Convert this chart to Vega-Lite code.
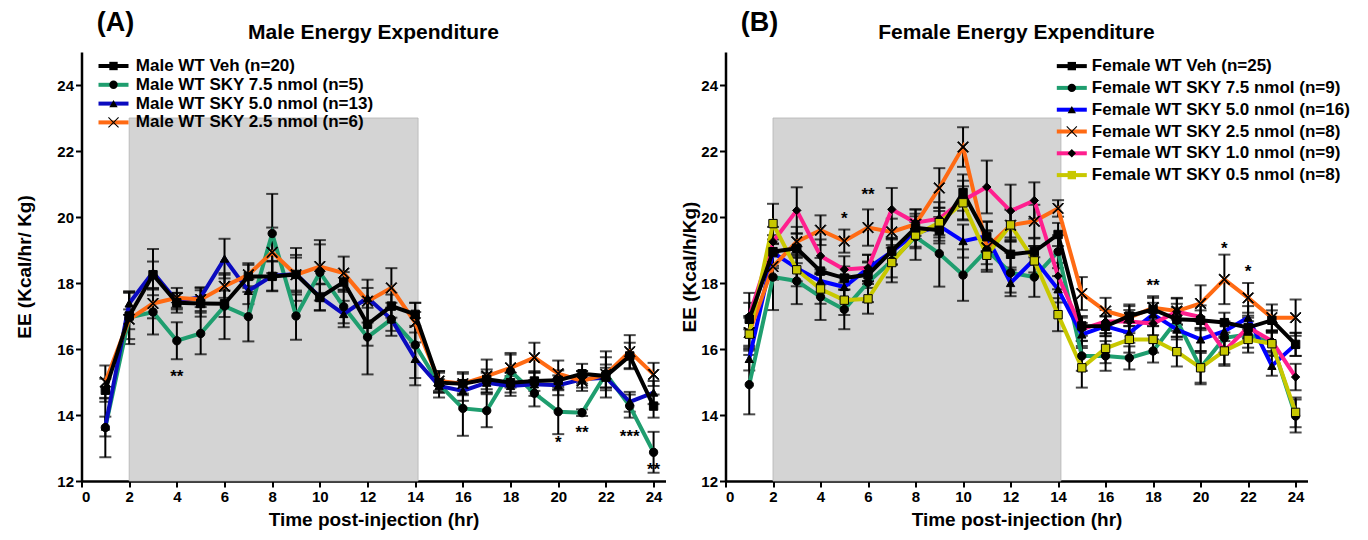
{
"$schema": "https://vega.github.io/schema/vega-lite/v6.json",
"background": "white",
"padding": {"left": 15.5, "top": 9, "right": 4, "bottom": 2},
"config": {
 "font": "Liberation Sans",
 "view": {"stroke": null},
 "axis": {"grid": false, "domainColor": "black", "domainWidth": 2.5, "tickColor": "black", "tickWidth": 2, "tickSize": 6, "labelFont": "Liberation Sans", "labelFontWeight": "bold", "labelFontSize": 15, "labelColor": "black", "labelPadding": 2, "titleFont": "Liberation Sans", "titleFontWeight": "bold", "titleFontSize": 19, "titleColor": "black"},
 "axisX": {"titlePadding": 6},
 "axisY": {"titlePadding": 22},
 "legend": {"labelFont": "Liberation Sans", "labelFontSize": 17, "labelFontWeight": "bold", "labelColor": "black", "padding": 0, "labelLimit": 500},
 "title": {"font": "Liberation Sans", "fontSize": 21, "fontWeight": "bold", "color": "black"}
},
"resolve": {"scale": {"color": "independent", "shape": "independent", "fill": "independent"}, "legend": {"color": "independent", "shape": "independent", "fill": "independent"}},
"datasets": {
 "shade": [{"x1": 2, "x2": 14.12, "y1": 12, "y2": 23}],
 "starsM": [{"h": 4, "y": 15.16, "t": "**"}, {"h": 20, "y": 13.15, "t": "*"}, {"h": 21, "y": 13.44, "t": "**"}, {"h": 23, "y": 13.34, "t": "***"}, {"h": 24, "y": 12.32, "t": "**"}],
 "starsF": [{"h": 5, "y": 19.94, "t": "*"}, {"h": 6, "y": 20.68, "t": "**"}, {"h": 18, "y": 17.92, "t": "**"}, {"h": 21, "y": 19.03, "t": "*"}, {"h": 22, "y": 18.34, "t": "*"}],
 "male": [
  {"s":"Male WT SKY 7.5 nmol (n=5)","h":1,"ee":13.62,"se":0.9},{"s":"Male WT SKY 7.5 nmol (n=5)","h":2,"ee":16.95,"se":0.8},{"s":"Male WT SKY 7.5 nmol (n=5)","h":3,"ee":17.12,"se":0.68},{"s":"Male WT SKY 7.5 nmol (n=5)","h":4,"ee":16.25,"se":0.56},{"s":"Male WT SKY 7.5 nmol (n=5)","h":5,"ee":16.47,"se":0.63},{"s":"Male WT SKY 7.5 nmol (n=5)","h":6,"ee":17.3,"se":1.0},{"s":"Male WT SKY 7.5 nmol (n=5)","h":7,"ee":16.98,"se":0.75},{"s":"Male WT SKY 7.5 nmol (n=5)","h":8,"ee":19.5,"se":1.2},{"s":"Male WT SKY 7.5 nmol (n=5)","h":9,"ee":17.0,"se":0.72},{"s":"Male WT SKY 7.5 nmol (n=5)","h":10,"ee":18.32,"se":0.85},{"s":"Male WT SKY 7.5 nmol (n=5)","h":11,"ee":17.28,"se":0.5},{"s":"Male WT SKY 7.5 nmol (n=5)","h":12,"ee":16.36,"se":1.13},{"s":"Male WT SKY 7.5 nmol (n=5)","h":13,"ee":16.9,"se":0.5},{"s":"Male WT SKY 7.5 nmol (n=5)","h":14,"ee":16.12,"se":1.0},{"s":"Male WT SKY 7.5 nmol (n=5)","h":15,"ee":14.93,"se":0.4},{"s":"Male WT SKY 7.5 nmol (n=5)","h":16,"ee":14.2,"se":0.83},{"s":"Male WT SKY 7.5 nmol (n=5)","h":17,"ee":14.13,"se":0.5},{"s":"Male WT SKY 7.5 nmol (n=5)","h":18,"ee":15.33,"se":0.5},{"s":"Male WT SKY 7.5 nmol (n=5)","h":19,"ee":14.66,"se":0.4},{"s":"Male WT SKY 7.5 nmol (n=5)","h":20,"ee":14.1,"se":0.68},{"s":"Male WT SKY 7.5 nmol (n=5)","h":21,"ee":14.07,"se":0.1},{"s":"Male WT SKY 7.5 nmol (n=5)","h":22,"ee":15.25,"se":0.5},{"s":"Male WT SKY 7.5 nmol (n=5)","h":23,"ee":14.27,"se":0.35},{"s":"Male WT SKY 7.5 nmol (n=5)","h":24,"ee":12.87,"se":0.62},
  {"s":"Male WT SKY 5.0 nmol (n=13)","h":1,"ee":13.65,"se":0.3},{"s":"Male WT SKY 5.0 nmol (n=13)","h":2,"ee":17.38,"se":0.35},{"s":"Male WT SKY 5.0 nmol (n=13)","h":3,"ee":18.33,"se":0.7},{"s":"Male WT SKY 5.0 nmol (n=13)","h":4,"ee":17.45,"se":0.25},{"s":"Male WT SKY 5.0 nmol (n=13)","h":5,"ee":17.57,"se":0.3},{"s":"Male WT SKY 5.0 nmol (n=13)","h":6,"ee":18.74,"se":0.6},{"s":"Male WT SKY 5.0 nmol (n=13)","h":7,"ee":17.76,"se":0.4},{"s":"Male WT SKY 5.0 nmol (n=13)","h":8,"ee":18.22,"se":0.45},{"s":"Male WT SKY 5.0 nmol (n=13)","h":9,"ee":18.27,"se":0.5},{"s":"Male WT SKY 5.0 nmol (n=13)","h":10,"ee":17.58,"se":0.4},{"s":"Male WT SKY 5.0 nmol (n=13)","h":11,"ee":17.06,"se":0.4},{"s":"Male WT SKY 5.0 nmol (n=13)","h":12,"ee":17.55,"se":0.3},{"s":"Male WT SKY 5.0 nmol (n=13)","h":13,"ee":16.9,"se":0.35},{"s":"Male WT SKY 5.0 nmol (n=13)","h":14,"ee":15.7,"se":0.8},{"s":"Male WT SKY 5.0 nmol (n=13)","h":15,"ee":14.88,"se":0.2},{"s":"Male WT SKY 5.0 nmol (n=13)","h":16,"ee":14.73,"se":0.3},{"s":"Male WT SKY 5.0 nmol (n=13)","h":17,"ee":14.98,"se":0.3},{"s":"Male WT SKY 5.0 nmol (n=13)","h":18,"ee":14.88,"se":0.3},{"s":"Male WT SKY 5.0 nmol (n=13)","h":19,"ee":14.93,"se":0.35},{"s":"Male WT SKY 5.0 nmol (n=13)","h":20,"ee":14.9,"se":0.3},{"s":"Male WT SKY 5.0 nmol (n=13)","h":21,"ee":15.08,"se":0.25},{"s":"Male WT SKY 5.0 nmol (n=13)","h":22,"ee":15.13,"se":0.3},{"s":"Male WT SKY 5.0 nmol (n=13)","h":23,"ee":14.4,"se":0.3},{"s":"Male WT SKY 5.0 nmol (n=13)","h":24,"ee":14.68,"se":0.35},
  {"s":"Male WT SKY 2.5 nmol (n=6)","h":1,"ee":15.0,"se":0.5},{"s":"Male WT SKY 2.5 nmol (n=6)","h":2,"ee":16.9,"se":0.3},{"s":"Male WT SKY 2.5 nmol (n=6)","h":3,"ee":17.38,"se":0.45},{"s":"Male WT SKY 2.5 nmol (n=6)","h":4,"ee":17.55,"se":0.3},{"s":"Male WT SKY 2.5 nmol (n=6)","h":5,"ee":17.5,"se":0.35},{"s":"Male WT SKY 2.5 nmol (n=6)","h":6,"ee":17.9,"se":0.35},{"s":"Male WT SKY 2.5 nmol (n=6)","h":7,"ee":18.25,"se":0.35},{"s":"Male WT SKY 2.5 nmol (n=6)","h":8,"ee":18.93,"se":0.75},{"s":"Male WT SKY 2.5 nmol (n=6)","h":9,"ee":18.25,"se":0.6},{"s":"Male WT SKY 2.5 nmol (n=6)","h":10,"ee":18.5,"se":0.8},{"s":"Male WT SKY 2.5 nmol (n=6)","h":11,"ee":18.3,"se":0.5},{"s":"Male WT SKY 2.5 nmol (n=6)","h":12,"ee":17.45,"se":0.65},{"s":"Male WT SKY 2.5 nmol (n=6)","h":13,"ee":17.85,"se":0.6},{"s":"Male WT SKY 2.5 nmol (n=6)","h":14,"ee":16.8,"se":0.6},{"s":"Male WT SKY 2.5 nmol (n=6)","h":15,"ee":15.03,"se":0.3},{"s":"Male WT SKY 2.5 nmol (n=6)","h":16,"ee":14.95,"se":0.35},{"s":"Male WT SKY 2.5 nmol (n=6)","h":17,"ee":15.18,"se":0.5},{"s":"Male WT SKY 2.5 nmol (n=6)","h":18,"ee":15.43,"se":0.45},{"s":"Male WT SKY 2.5 nmol (n=6)","h":19,"ee":15.74,"se":0.45},{"s":"Male WT SKY 2.5 nmol (n=6)","h":20,"ee":15.25,"se":0.4},{"s":"Male WT SKY 2.5 nmol (n=6)","h":21,"ee":15.03,"se":0.3},{"s":"Male WT SKY 2.5 nmol (n=6)","h":22,"ee":15.23,"se":0.7},{"s":"Male WT SKY 2.5 nmol (n=6)","h":23,"ee":15.92,"se":0.5},{"s":"Male WT SKY 2.5 nmol (n=6)","h":24,"ee":15.23,"se":0.35},
  {"s":"Male WT Veh (n=20)","h":1,"ee":14.75,"se":0.35},{"s":"Male WT Veh (n=20)","h":2,"ee":17.0,"se":0.7},{"s":"Male WT Veh (n=20)","h":3,"ee":18.25,"se":0.4},{"s":"Male WT Veh (n=20)","h":4,"ee":17.4,"se":0.3},{"s":"Male WT Veh (n=20)","h":5,"ee":17.38,"se":0.4},{"s":"Male WT Veh (n=20)","h":6,"ee":17.37,"se":0.4},{"s":"Male WT Veh (n=20)","h":7,"ee":18.2,"se":0.35},{"s":"Male WT Veh (n=20)","h":8,"ee":18.2,"se":0.45},{"s":"Male WT Veh (n=20)","h":9,"ee":18.26,"se":0.8},{"s":"Male WT Veh (n=20)","h":10,"ee":17.56,"se":0.4},{"s":"Male WT Veh (n=20)","h":11,"ee":18.03,"se":0.3},{"s":"Male WT Veh (n=20)","h":12,"ee":16.75,"se":0.65},{"s":"Male WT Veh (n=20)","h":13,"ee":17.3,"se":0.35},{"s":"Male WT Veh (n=20)","h":14,"ee":17.05,"se":0.35},{"s":"Male WT Veh (n=20)","h":15,"ee":14.98,"se":0.3},{"s":"Male WT Veh (n=20)","h":16,"ee":14.95,"se":0.3},{"s":"Male WT Veh (n=20)","h":17,"ee":15.08,"se":0.3},{"s":"Male WT Veh (n=20)","h":18,"ee":14.98,"se":0.3},{"s":"Male WT Veh (n=20)","h":19,"ee":15.03,"se":0.3},{"s":"Male WT Veh (n=20)","h":20,"ee":15.05,"se":0.3},{"s":"Male WT Veh (n=20)","h":21,"ee":15.25,"se":0.3},{"s":"Male WT Veh (n=20)","h":22,"ee":15.18,"se":0.35},{"s":"Male WT Veh (n=20)","h":23,"ee":15.79,"se":0.4},{"s":"Male WT Veh (n=20)","h":24,"ee":14.27,"se":0.35}
 ],
 "female": [
  {"s":"Female WT SKY 7.5 nmol (n=9)","h":1,"ee":14.92,"se":0.9},{"s":"Female WT SKY 7.5 nmol (n=9)","h":2,"ee":18.18,"se":1.0},{"s":"Female WT SKY 7.5 nmol (n=9)","h":3,"ee":18.06,"se":0.7},{"s":"Female WT SKY 7.5 nmol (n=9)","h":4,"ee":17.58,"se":0.7},{"s":"Female WT SKY 7.5 nmol (n=9)","h":5,"ee":17.2,"se":0.6},{"s":"Female WT SKY 7.5 nmol (n=9)","h":6,"ee":18.02,"se":0.6},{"s":"Female WT SKY 7.5 nmol (n=9)","h":7,"ee":18.67,"se":0.65},{"s":"Female WT SKY 7.5 nmol (n=9)","h":8,"ee":19.4,"se":0.7},{"s":"Female WT SKY 7.5 nmol (n=9)","h":9,"ee":18.89,"se":1.0},{"s":"Female WT SKY 7.5 nmol (n=9)","h":10,"ee":18.24,"se":0.78},{"s":"Female WT SKY 7.5 nmol (n=9)","h":11,"ee":19.0,"se":0.6},{"s":"Female WT SKY 7.5 nmol (n=9)","h":12,"ee":18.31,"se":0.6},{"s":"Female WT SKY 7.5 nmol (n=9)","h":13,"ee":18.18,"se":0.6},{"s":"Female WT SKY 7.5 nmol (n=9)","h":14,"ee":18.95,"se":0.5},{"s":"Female WT SKY 7.5 nmol (n=9)","h":15,"ee":15.79,"se":0.45},{"s":"Female WT SKY 7.5 nmol (n=9)","h":16,"ee":15.79,"se":0.45},{"s":"Female WT SKY 7.5 nmol (n=9)","h":17,"ee":15.73,"se":0.35},{"s":"Female WT SKY 7.5 nmol (n=9)","h":18,"ee":15.94,"se":0.35},{"s":"Female WT SKY 7.5 nmol (n=9)","h":19,"ee":16.87,"se":0.5},{"s":"Female WT SKY 7.5 nmol (n=9)","h":20,"ee":15.43,"se":0.5},{"s":"Female WT SKY 7.5 nmol (n=9)","h":21,"ee":16.34,"se":0.45},{"s":"Female WT SKY 7.5 nmol (n=9)","h":22,"ee":16.44,"se":0.4},{"s":"Female WT SKY 7.5 nmol (n=9)","h":23,"ee":16.19,"se":0.3},{"s":"Female WT SKY 7.5 nmol (n=9)","h":24,"ee":13.97,"se":0.5},
  {"s":"Female WT SKY 5.0 nmol (n=16)","h":1,"ee":15.7,"se":0.35},{"s":"Female WT SKY 5.0 nmol (n=16)","h":2,"ee":18.92,"se":0.4},{"s":"Female WT SKY 5.0 nmol (n=16)","h":3,"ee":18.45,"se":0.4},{"s":"Female WT SKY 5.0 nmol (n=16)","h":4,"ee":18.06,"se":0.35},{"s":"Female WT SKY 5.0 nmol (n=16)","h":5,"ee":17.88,"se":0.35},{"s":"Female WT SKY 5.0 nmol (n=16)","h":6,"ee":18.45,"se":0.4},{"s":"Female WT SKY 5.0 nmol (n=16)","h":7,"ee":18.95,"se":0.4},{"s":"Female WT SKY 5.0 nmol (n=16)","h":8,"ee":19.5,"se":0.4},{"s":"Female WT SKY 5.0 nmol (n=16)","h":9,"ee":19.73,"se":0.45},{"s":"Female WT SKY 5.0 nmol (n=16)","h":10,"ee":19.27,"se":0.5},{"s":"Female WT SKY 5.0 nmol (n=16)","h":11,"ee":19.42,"se":0.45},{"s":"Female WT SKY 5.0 nmol (n=16)","h":12,"ee":18.0,"se":0.4},{"s":"Female WT SKY 5.0 nmol (n=16)","h":13,"ee":18.72,"se":0.4},{"s":"Female WT SKY 5.0 nmol (n=16)","h":14,"ee":17.81,"se":0.4},{"s":"Female WT SKY 5.0 nmol (n=16)","h":15,"ee":16.44,"se":0.35},{"s":"Female WT SKY 5.0 nmol (n=16)","h":16,"ee":16.69,"se":0.3},{"s":"Female WT SKY 5.0 nmol (n=16)","h":17,"ee":16.49,"se":0.3},{"s":"Female WT SKY 5.0 nmol (n=16)","h":18,"ee":17.05,"se":0.35},{"s":"Female WT SKY 5.0 nmol (n=16)","h":19,"ee":16.59,"se":0.3},{"s":"Female WT SKY 5.0 nmol (n=16)","h":20,"ee":16.29,"se":0.35},{"s":"Female WT SKY 5.0 nmol (n=16)","h":21,"ee":16.54,"se":0.3},{"s":"Female WT SKY 5.0 nmol (n=16)","h":22,"ee":16.95,"se":0.35},{"s":"Female WT SKY 5.0 nmol (n=16)","h":23,"ee":15.49,"se":0.3},{"s":"Female WT SKY 5.0 nmol (n=16)","h":24,"ee":16.14,"se":0.35},
  {"s":"Female WT SKY 2.5 nmol (n=8)","h":1,"ee":16.5,"se":0.5},{"s":"Female WT SKY 2.5 nmol (n=8)","h":2,"ee":18.5,"se":0.4},{"s":"Female WT SKY 2.5 nmol (n=8)","h":3,"ee":19.25,"se":0.45},{"s":"Female WT SKY 2.5 nmol (n=8)","h":4,"ee":19.6,"se":0.45},{"s":"Female WT SKY 2.5 nmol (n=8)","h":5,"ee":19.27,"se":0.35},{"s":"Female WT SKY 2.5 nmol (n=8)","h":6,"ee":19.68,"se":0.55},{"s":"Female WT SKY 2.5 nmol (n=8)","h":7,"ee":19.55,"se":0.4},{"s":"Female WT SKY 2.5 nmol (n=8)","h":8,"ee":19.78,"se":0.45},{"s":"Female WT SKY 2.5 nmol (n=8)","h":9,"ee":20.88,"se":0.6},{"s":"Female WT SKY 2.5 nmol (n=8)","h":10,"ee":22.12,"se":0.6},{"s":"Female WT SKY 2.5 nmol (n=8)","h":11,"ee":19.07,"se":0.5},{"s":"Female WT SKY 2.5 nmol (n=8)","h":12,"ee":19.75,"se":0.5},{"s":"Female WT SKY 2.5 nmol (n=8)","h":13,"ee":19.87,"se":0.5},{"s":"Female WT SKY 2.5 nmol (n=8)","h":14,"ee":20.26,"se":0.25},{"s":"Female WT SKY 2.5 nmol (n=8)","h":15,"ee":17.68,"se":0.5},{"s":"Female WT SKY 2.5 nmol (n=8)","h":16,"ee":17.15,"se":0.4},{"s":"Female WT SKY 2.5 nmol (n=8)","h":17,"ee":16.95,"se":0.4},{"s":"Female WT SKY 2.5 nmol (n=8)","h":18,"ee":17.25,"se":0.35},{"s":"Female WT SKY 2.5 nmol (n=8)","h":19,"ee":17.15,"se":0.4},{"s":"Female WT SKY 2.5 nmol (n=8)","h":20,"ee":17.38,"se":0.55},{"s":"Female WT SKY 2.5 nmol (n=8)","h":21,"ee":18.11,"se":0.75},{"s":"Female WT SKY 2.5 nmol (n=8)","h":22,"ee":17.55,"se":0.45},{"s":"Female WT SKY 2.5 nmol (n=8)","h":23,"ee":16.95,"se":0.4},{"s":"Female WT SKY 2.5 nmol (n=8)","h":24,"ee":16.95,"se":0.55},
  {"s":"Female WT SKY 1.0 nmol (n=9)","h":1,"ee":17.0,"se":0.4},{"s":"Female WT SKY 1.0 nmol (n=9)","h":2,"ee":19.25,"se":0.45},{"s":"Female WT SKY 1.0 nmol (n=9)","h":3,"ee":20.2,"se":0.7},{"s":"Female WT SKY 1.0 nmol (n=9)","h":4,"ee":18.82,"se":0.5},{"s":"Female WT SKY 1.0 nmol (n=9)","h":5,"ee":18.41,"se":0.4},{"s":"Female WT SKY 1.0 nmol (n=9)","h":6,"ee":18.46,"se":0.4},{"s":"Female WT SKY 1.0 nmol (n=9)","h":7,"ee":20.23,"se":0.65},{"s":"Female WT SKY 1.0 nmol (n=9)","h":8,"ee":19.83,"se":0.4},{"s":"Female WT SKY 1.0 nmol (n=9)","h":9,"ee":19.95,"se":0.5},{"s":"Female WT SKY 1.0 nmol (n=9)","h":10,"ee":20.5,"se":0.6},{"s":"Female WT SKY 1.0 nmol (n=9)","h":11,"ee":20.91,"se":0.8},{"s":"Female WT SKY 1.0 nmol (n=9)","h":12,"ee":20.18,"se":0.8},{"s":"Female WT SKY 1.0 nmol (n=9)","h":13,"ee":20.5,"se":0.55},{"s":"Female WT SKY 1.0 nmol (n=9)","h":14,"ee":18.21,"se":0.4},{"s":"Female WT SKY 1.0 nmol (n=9)","h":15,"ee":16.6,"se":0.35},{"s":"Female WT SKY 1.0 nmol (n=9)","h":16,"ee":16.83,"se":0.35},{"s":"Female WT SKY 1.0 nmol (n=9)","h":17,"ee":16.83,"se":0.35},{"s":"Female WT SKY 1.0 nmol (n=9)","h":18,"ee":16.77,"se":0.35},{"s":"Female WT SKY 1.0 nmol (n=9)","h":19,"ee":17.13,"se":0.4},{"s":"Female WT SKY 1.0 nmol (n=9)","h":20,"ee":16.97,"se":0.35},{"s":"Female WT SKY 1.0 nmol (n=9)","h":21,"ee":15.94,"se":0.4},{"s":"Female WT SKY 1.0 nmol (n=9)","h":22,"ee":16.66,"se":0.35},{"s":"Female WT SKY 1.0 nmol (n=9)","h":23,"ee":16.24,"se":0.3},{"s":"Female WT SKY 1.0 nmol (n=9)","h":24,"ee":15.15,"se":0.4},
  {"s":"Female WT SKY 0.5 nmol (n=8)","h":1,"ee":16.45,"se":0.5},{"s":"Female WT SKY 0.5 nmol (n=8)","h":2,"ee":19.8,"se":0.6},{"s":"Female WT SKY 0.5 nmol (n=8)","h":3,"ee":18.4,"se":0.5},{"s":"Female WT SKY 0.5 nmol (n=8)","h":4,"ee":17.82,"se":0.45},{"s":"Female WT SKY 0.5 nmol (n=8)","h":5,"ee":17.48,"se":0.45},{"s":"Female WT SKY 0.5 nmol (n=8)","h":6,"ee":17.52,"se":0.45},{"s":"Female WT SKY 0.5 nmol (n=8)","h":7,"ee":18.62,"se":0.45},{"s":"Female WT SKY 0.5 nmol (n=8)","h":8,"ee":19.45,"se":0.4},{"s":"Female WT SKY 0.5 nmol (n=8)","h":9,"ee":19.83,"se":0.45},{"s":"Female WT SKY 0.5 nmol (n=8)","h":10,"ee":20.43,"se":0.5},{"s":"Female WT SKY 0.5 nmol (n=8)","h":11,"ee":18.84,"se":0.5},{"s":"Female WT SKY 0.5 nmol (n=8)","h":12,"ee":19.76,"se":0.45},{"s":"Female WT SKY 0.5 nmol (n=8)","h":13,"ee":18.67,"se":0.45},{"s":"Female WT SKY 0.5 nmol (n=8)","h":14,"ee":17.04,"se":0.5},{"s":"Female WT SKY 0.5 nmol (n=8)","h":15,"ee":15.43,"se":0.6},{"s":"Female WT SKY 0.5 nmol (n=8)","h":16,"ee":16.02,"se":0.45},{"s":"Female WT SKY 0.5 nmol (n=8)","h":17,"ee":16.29,"se":0.4},{"s":"Female WT SKY 0.5 nmol (n=8)","h":18,"ee":16.29,"se":0.4},{"s":"Female WT SKY 0.5 nmol (n=8)","h":19,"ee":15.92,"se":0.45},{"s":"Female WT SKY 0.5 nmol (n=8)","h":20,"ee":15.43,"se":0.45},{"s":"Female WT SKY 0.5 nmol (n=8)","h":21,"ee":15.94,"se":0.45},{"s":"Female WT SKY 0.5 nmol (n=8)","h":22,"ee":16.29,"se":0.4},{"s":"Female WT SKY 0.5 nmol (n=8)","h":23,"ee":16.16,"se":0.35},{"s":"Female WT SKY 0.5 nmol (n=8)","h":24,"ee":14.08,"se":0.45},
  {"s":"Female WT Veh (n=25)","h":1,"ee":16.9,"se":0.8},{"s":"Female WT Veh (n=25)","h":2,"ee":18.95,"se":0.5},{"s":"Female WT Veh (n=25)","h":3,"ee":19.05,"se":0.45},{"s":"Female WT Veh (n=25)","h":4,"ee":18.36,"se":0.4},{"s":"Female WT Veh (n=25)","h":5,"ee":18.15,"se":0.35},{"s":"Female WT Veh (n=25)","h":6,"ee":18.25,"se":0.4},{"s":"Female WT Veh (n=25)","h":7,"ee":18.97,"se":0.4},{"s":"Female WT Veh (n=25)","h":8,"ee":19.67,"se":0.35},{"s":"Female WT Veh (n=25)","h":9,"ee":19.6,"se":0.4},{"s":"Female WT Veh (n=25)","h":10,"ee":20.74,"se":0.55},{"s":"Female WT Veh (n=25)","h":11,"ee":19.4,"se":0.45},{"s":"Female WT Veh (n=25)","h":12,"ee":18.87,"se":0.4},{"s":"Female WT Veh (n=25)","h":13,"ee":18.95,"se":0.4},{"s":"Female WT Veh (n=25)","h":14,"ee":19.47,"se":0.35},{"s":"Female WT Veh (n=25)","h":15,"ee":16.7,"se":0.3},{"s":"Female WT Veh (n=25)","h":16,"ee":16.69,"se":0.3},{"s":"Female WT Veh (n=25)","h":17,"ee":17.0,"se":0.3},{"s":"Female WT Veh (n=25)","h":18,"ee":17.2,"se":0.35},{"s":"Female WT Veh (n=25)","h":19,"ee":16.9,"se":0.35},{"s":"Female WT Veh (n=25)","h":20,"ee":16.87,"se":0.3},{"s":"Female WT Veh (n=25)","h":21,"ee":16.8,"se":0.3},{"s":"Female WT Veh (n=25)","h":22,"ee":16.65,"se":0.3},{"s":"Female WT Veh (n=25)","h":23,"ee":16.87,"se":0.3},{"s":"Female WT Veh (n=25)","h":24,"ee":16.14,"se":0.35}
 ]
},
"spacing": 15,
"hconcat": [
 {
  "title": {"text": "(A)", "anchor": "start", "fontSize": 27, "dx": 81, "dy": 15, "offset": 0},
  "hconcat": [
   {
    "width": 584, "height": 429,
    "title": {"text": "Male Energy Expenditure", "frame": "group", "offset": 9},
    "layer": [
     {"data": {"name": "shade"}, "mark": {"type": "rect", "color": "#d4d4d4", "stroke": "#b4b4b4", "strokeWidth": 0.8},
      "encoding": {
       "x": {"field": "x1", "type": "quantitative", "title": "Time post-injection (hr)", "scale": {"domain": [0, 24.5], "nice": false}, "axis": {"values": [0,1,2,3,4,5,6,7,8,9,10,11,12,13,14,15,16,17,18,19,20,21,22,23,24], "labelExpr": "datum.value % 2 === 0 ? datum.label : ''"}},
       "x2": {"field": "x2"},
       "y": {"field": "y1", "type": "quantitative", "title": "EE (Kcal/hr/ Kg)", "scale": {"domain": [12, 25], "nice": false}, "axis": {"values": [12,14,16,18,20,22,24]}},
       "y2": {"field": "y2"}}},
     {"data": {"name": "male"}, "mark": {"type": "errorbar", "ticks": true, "size": 12, "thickness": 2, "color": "black"},
      "encoding": {"x": {"field": "h", "type": "quantitative", "title": "Time post-injection (hr)"}, "y": {"field": "ee", "type": "quantitative", "title": "EE (Kcal/hr/ Kg)"}, "yError": {"field": "se"}}},
     {"data": {"name": "male"}, "mark": {"type": "line", "strokeWidth": 4},
      "encoding": {"x": {"field": "h", "type": "quantitative", "title": "Time post-injection (hr)"}, "y": {"field": "ee", "type": "quantitative", "title": "EE (Kcal/hr/ Kg)"},
       "color": {"field": "s", "type": "nominal", "sort": ["Male WT Veh (n=20)", "Male WT SKY 7.5 nmol (n=5)", "Male WT SKY 5.0 nmol (n=13)", "Male WT SKY 2.5 nmol (n=6)"], "scale": {"range": ["#000000", "#1f9e6f", "#0a0abf", "#ff6a13"]},
        "legend": {"title": null, "orient": "none", "legendX": 23.5, "legendY": 5.5, "symbolType": "M-3,0H3", "symbolSize": 100, "symbolStrokeWidth": 4, "labelOffset": 13.8, "rowPadding": 0.8}}}},
     {"data": {"name": "male"}, "mark": {"type": "point", "filled": true, "size": 70, "opacity": 1, "stroke": "black", "strokeWidth": 1},
      "encoding": {"x": {"field": "h", "type": "quantitative", "title": "Time post-injection (hr)"}, "y": {"field": "ee", "type": "quantitative", "title": "EE (Kcal/hr/ Kg)"},
       "fill": {"field": "s", "type": "nominal", "scale": {"domain": ["Male WT Veh (n=20)", "Male WT SKY 7.5 nmol (n=5)", "Male WT SKY 5.0 nmol (n=13)", "Male WT SKY 2.5 nmol (n=6)"], "range": ["black", "black", "black", "black"]},
        "legend": {"title": null, "orient": "none", "legendX": 23.5, "legendY": 5.5, "symbolSize": 70, "symbolStrokeColor": "black", "symbolStrokeWidth": 1, "labelExpr": "' '", "rowPadding": 0.8}},
       "shape": {"field": "s", "type": "nominal", "scale": {"domain": ["Male WT Veh (n=20)", "Male WT SKY 7.5 nmol (n=5)", "Male WT SKY 5.0 nmol (n=13)", "Male WT SKY 2.5 nmol (n=6)"], "range": ["square", "circle", "triangle-up", "M-1.3,-1.12L-1.12,-1.3L0,-0.18L1.12,-1.3L1.3,-1.12L0.18,0L1.3,1.12L1.12,1.3L0,0.18L-1.12,1.3L-1.3,1.12L-0.18,0Z"]},
        "legend": {"title": null, "orient": "none", "legendX": 23.5, "legendY": 5.5, "symbolSize": 70, "symbolStrokeColor": "black", "symbolStrokeWidth": 1, "labelExpr": "' '", "rowPadding": 0.8}}}},
     {"data": {"name": "starsM"}, "mark": {"type": "text", "fontSize": 17, "fontWeight": "bold", "baseline": "middle", "color": "black"},
      "encoding": {"x": {"field": "h", "type": "quantitative", "title": "Time post-injection (hr)"}, "y": {"field": "y", "type": "quantitative", "title": "EE (Kcal/hr/ Kg)"}, "text": {"field": "t"}}}
    ]
   }
  ]
 },
 {
  "title": {"text": "(B)", "anchor": "start", "fontSize": 27, "dx": 60, "dy": 15, "offset": 0},
  "hconcat": [
   {
    "width": 582, "height": 429,
    "title": {"text": "Female Energy Expenditure", "frame": "group", "offset": 9},
    "layer": [
     {"data": {"name": "shade"}, "mark": {"type": "rect", "color": "#d4d4d4", "stroke": "#b4b4b4", "strokeWidth": 0.8},
      "encoding": {
       "x": {"field": "x1", "type": "quantitative", "title": "Time post-injection (hr)", "scale": {"domain": [0, 24.5], "nice": false}, "axis": {"values": [0,1,2,3,4,5,6,7,8,9,10,11,12,13,14,15,16,17,18,19,20,21,22,23,24], "labelExpr": "datum.value % 2 === 0 ? datum.label : ''"}},
       "x2": {"field": "x2"},
       "y": {"field": "y1", "type": "quantitative", "title": "EE (Kcal/h/Kg)", "scale": {"domain": [12, 25], "nice": false}, "axis": {"values": [12,14,16,18,20,22,24], "titlePadding": 1}},
       "y2": {"field": "y2"}}},
     {"data": {"name": "female"}, "mark": {"type": "errorbar", "ticks": true, "size": 12, "thickness": 2, "color": "black"},
      "encoding": {"x": {"field": "h", "type": "quantitative", "title": "Time post-injection (hr)"}, "y": {"field": "ee", "type": "quantitative", "title": "EE (Kcal/h/Kg)"}, "yError": {"field": "se"}}},
     {"data": {"name": "female"}, "mark": {"type": "line", "strokeWidth": 4},
      "encoding": {"x": {"field": "h", "type": "quantitative", "title": "Time post-injection (hr)"}, "y": {"field": "ee", "type": "quantitative", "title": "EE (Kcal/h/Kg)"},
       "color": {"field": "s", "type": "nominal", "sort": ["Female WT Veh (n=25)", "Female WT SKY 7.5 nmol (n=9)", "Female WT SKY 5.0 nmol (n=16)", "Female WT SKY 2.5 nmol (n=8)", "Female WT SKY 1.0 nmol (n=9)", "Female WT SKY 0.5 nmol (n=8)"], "scale": {"range": ["#000000", "#1f9e6f", "#0000ff", "#ff6a13", "#ff1f8e", "#c8c800"]},
        "legend": {"title": null, "orient": "none", "legendX": 337.8, "legendY": 5.6, "symbolType": "M-3,0H3", "symbolSize": 100, "symbolStrokeWidth": 4, "labelOffset": 11.5, "rowPadding": 3.8}}}},
     {"data": {"name": "female"}, "mark": {"type": "point", "filled": true, "size": 70, "opacity": 1, "stroke": "black", "strokeWidth": 1},
      "encoding": {"x": {"field": "h", "type": "quantitative", "title": "Time post-injection (hr)"}, "y": {"field": "ee", "type": "quantitative", "title": "EE (Kcal/h/Kg)"},
       "fill": {"field": "s", "type": "nominal", "scale": {"domain": ["Female WT Veh (n=25)", "Female WT SKY 7.5 nmol (n=9)", "Female WT SKY 5.0 nmol (n=16)", "Female WT SKY 2.5 nmol (n=8)", "Female WT SKY 1.0 nmol (n=9)", "Female WT SKY 0.5 nmol (n=8)"], "range": ["black", "black", "black", "black", "black", "#c8c800"]},
        "legend": {"title": null, "orient": "none", "legendX": 337.8, "legendY": 5.6, "symbolSize": 70, "symbolStrokeColor": "black", "symbolStrokeWidth": 1, "labelExpr": "' '", "rowPadding": 3.8}},
       "shape": {"field": "s", "type": "nominal", "scale": {"domain": ["Female WT Veh (n=25)", "Female WT SKY 7.5 nmol (n=9)", "Female WT SKY 5.0 nmol (n=16)", "Female WT SKY 2.5 nmol (n=8)", "Female WT SKY 1.0 nmol (n=9)", "Female WT SKY 0.5 nmol (n=8)"], "range": ["square", "circle", "triangle-up", "M-1.3,-1.12L-1.12,-1.3L0,-0.18L1.12,-1.3L1.3,-1.12L0.18,0L1.3,1.12L1.12,1.3L0,0.18L-1.12,1.3L-1.3,1.12L-0.18,0Z", "diamond", "square"]},
        "legend": {"title": null, "orient": "none", "legendX": 337.8, "legendY": 5.6, "symbolSize": 70, "symbolStrokeColor": "black", "symbolStrokeWidth": 1, "labelExpr": "' '", "rowPadding": 3.8}}}},
     {"data": {"name": "starsF"}, "mark": {"type": "text", "fontSize": 17, "fontWeight": "bold", "baseline": "middle", "color": "black"},
      "encoding": {"x": {"field": "h", "type": "quantitative", "title": "Time post-injection (hr)"}, "y": {"field": "y", "type": "quantitative", "title": "EE (Kcal/h/Kg)"}, "text": {"field": "t"}}}
    ]
   }
  ]
 }
]
}
